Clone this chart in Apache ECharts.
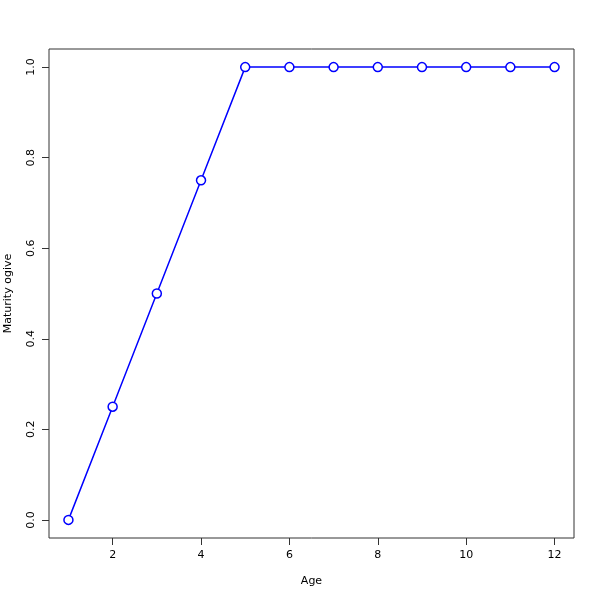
<!DOCTYPE html>
<html><head><meta charset="utf-8">
<script src="https://cdn.jsdelivr.net/npm/echarts@6/dist/echarts.min.js"></script>
<style>html,body{margin:0;padding:0;background:#fff}#c{width:600px;height:600px}</style>
</head><body><div id="c"></div>
<script>
const ages = [1,2,3,4,5,6,7,8,9,10,11,12];
const maturity = [0,0.25,0.5,0.75,1,1,1,1,1,1,1,1];
const xTicks = [2,4,6,8,10,12];
const yTicks = [0,0.2,0.4,0.6,0.8,1.0];
const font = 'DejaVu Sans';
const chart = echarts.init(document.getElementById('c'), null, {renderer:'canvas'});
chart.setOption({
  animation:false,
  backgroundColor:'#fff',
  grid:{left:49,right:26,top:49,bottom:62,show:true,borderColor:'#333',borderWidth:1,backgroundColor:'transparent',outerBoundsMode:'none',containLabel:false},
  xAxis:{type:'value',min:0.56,max:12.44,name:'Age',nameLocation:'middle',nameGap:38,
    nameTextStyle:{fontFamily:font,fontSize:11,color:'#000'},
    axisLine:{show:false,onZero:false},splitLine:{show:false},
    axisTick:{show:true,inside:false,length:7,lineStyle:{color:'#333'},customValues:xTicks},
    axisLabel:{fontFamily:font,fontSize:11,color:'#000',margin:12,customValues:xTicks,formatter:v=>String(v)}},
  yAxis:{type:'value',min:-0.04,max:1.04,name:'Maturity ogive',nameLocation:'middle',nameGap:35,nameRotate:90,
    nameTextStyle:{fontFamily:font,fontSize:11,color:'#000'},
    axisLine:{show:false,onZero:false},splitLine:{show:false},
    axisTick:{show:true,inside:false,length:7,lineStyle:{color:'#333'},customValues:yTicks},
    axisLabel:{fontFamily:font,fontSize:11,color:'#000',margin:12,rotate:90,customValues:yTicks,formatter:v=>v.toFixed(1)}},
  series:[{type:'line',data:ages.map((a,i)=>[a,maturity[i]]),
    lineStyle:{color:'#0000ff',width:1.5},
    symbol:'circle',symbolSize:9,
    itemStyle:{color:'#fff',borderColor:'#0000ff',borderWidth:1.5}}]
});
</script></body></html>
